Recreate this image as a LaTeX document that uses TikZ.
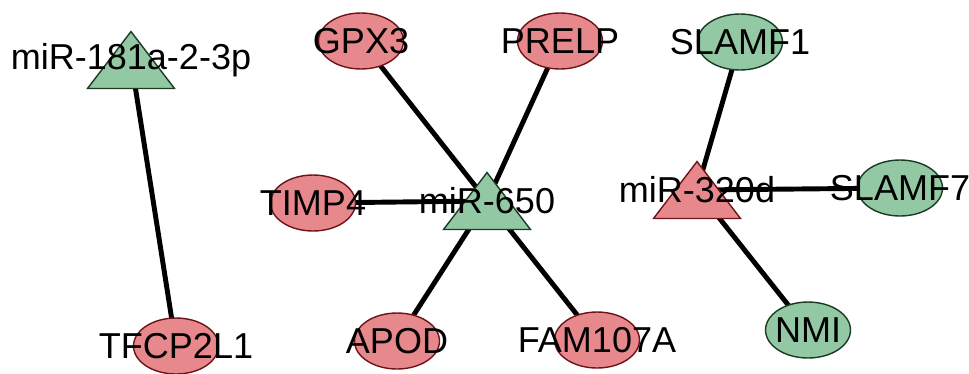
\documentclass[tikz,border=0pt]{standalone}
\usepackage{fontspec}
\setmainfont{Liberation Sans}
\usetikzlibrary{shapes.geometric}
\usetikzlibrary{backgrounds}

\definecolor{genered}{RGB}{231,137,140}
\definecolor{redline}{RGB}{110,20,25}
\definecolor{mirgreen}{RGB}{146,200,163}
\definecolor{greenline}{RGB}{25,60,35}

\begin{document}
\begin{tikzpicture}[x=0.02cm, y=-0.02cm,
  every label/.style={font=\fontsize{20.5}{24}\selectfont, inner sep=0pt},
  gene/.style={ellipse, draw=redline, fill=genered, line width=0.8pt,
    minimum width=1.7cm, minimum height=1.12cm, inner sep=0pt},
  greengene/.style={gene, draw=greenline, fill=mirgreen},
  mirna/.style={isosceles triangle, shape border rotate=90,
    isosceles triangle stretches, draw=greenline, fill=mirgreen,
    line width=0.8pt, minimum width=1.74cm, minimum height=1.14cm, inner sep=0pt},
  redmirna/.style={mirna, draw=redline, fill=genered},
  link/.style={line width=2.8pt}]
  \useasboundingbox (0,0) rectangle (969,373);

  % left pair
  \node[mirna, label={[yshift=4pt]center:miR-181a-2-3p}] (mir181) at (131,67) {};
  \node[gene, label=center:TFCP2L1] (tfcp2l1) at (176,346) {};

  % miR-650 and its targets
  \node[mirna, label={[yshift=4pt]center:miR-650}] (mir650) at (487,208) {};
  \node[gene, label=center:GPX3] (gpx3) at (361,41) {};
  \node[gene, label=center:PRELP] (prelp) at (560,41) {};
  \node[gene, label=center:TIMP4] (timp4) at (313,203) {};
  \node[gene, label=center:APOD] (apod) at (397,341) {};
  \node[gene, label=center:FAM107A] (fam107a) at (597,340) {};

  % miR-320d and its targets
  \node[redmirna, label={[yshift=4pt]center:miR-320d}] (mir320d) at (697,197) {};
  \node[greengene, label=center:SLAMF1] (slamf1) at (740,42) {};
  \node[greengene, label=center:SLAMF7] (slamf7) at (900,188) {};
  \node[greengene, label=center:NMI] (nmi) at (808,330) {};

  \begin{pgfonlayer}{background}
    \draw[link] ([yshift=4pt]mir181.center) -- (tfcp2l1.center);
    \draw[link] ([yshift=4pt]mir650.center) -- (gpx3.center);
    \draw[link] ([yshift=4pt]mir650.center) -- (prelp.center);
    \draw[link] ([yshift=4pt]mir650.center) -- (timp4.center);
    \draw[link] ([yshift=4pt]mir650.center) -- (apod.center);
    \draw[link] ([yshift=4pt]mir650.center) -- (fam107a.center);
    \draw[link] ([yshift=4pt]mir320d.center) -- (slamf1.center);
    \draw[link] ([yshift=4pt]mir320d.center) -- (slamf7.center);
    \draw[link] ([yshift=4pt]mir320d.center) -- (nmi.center);
  \end{pgfonlayer}
\end{tikzpicture}
\end{document}
